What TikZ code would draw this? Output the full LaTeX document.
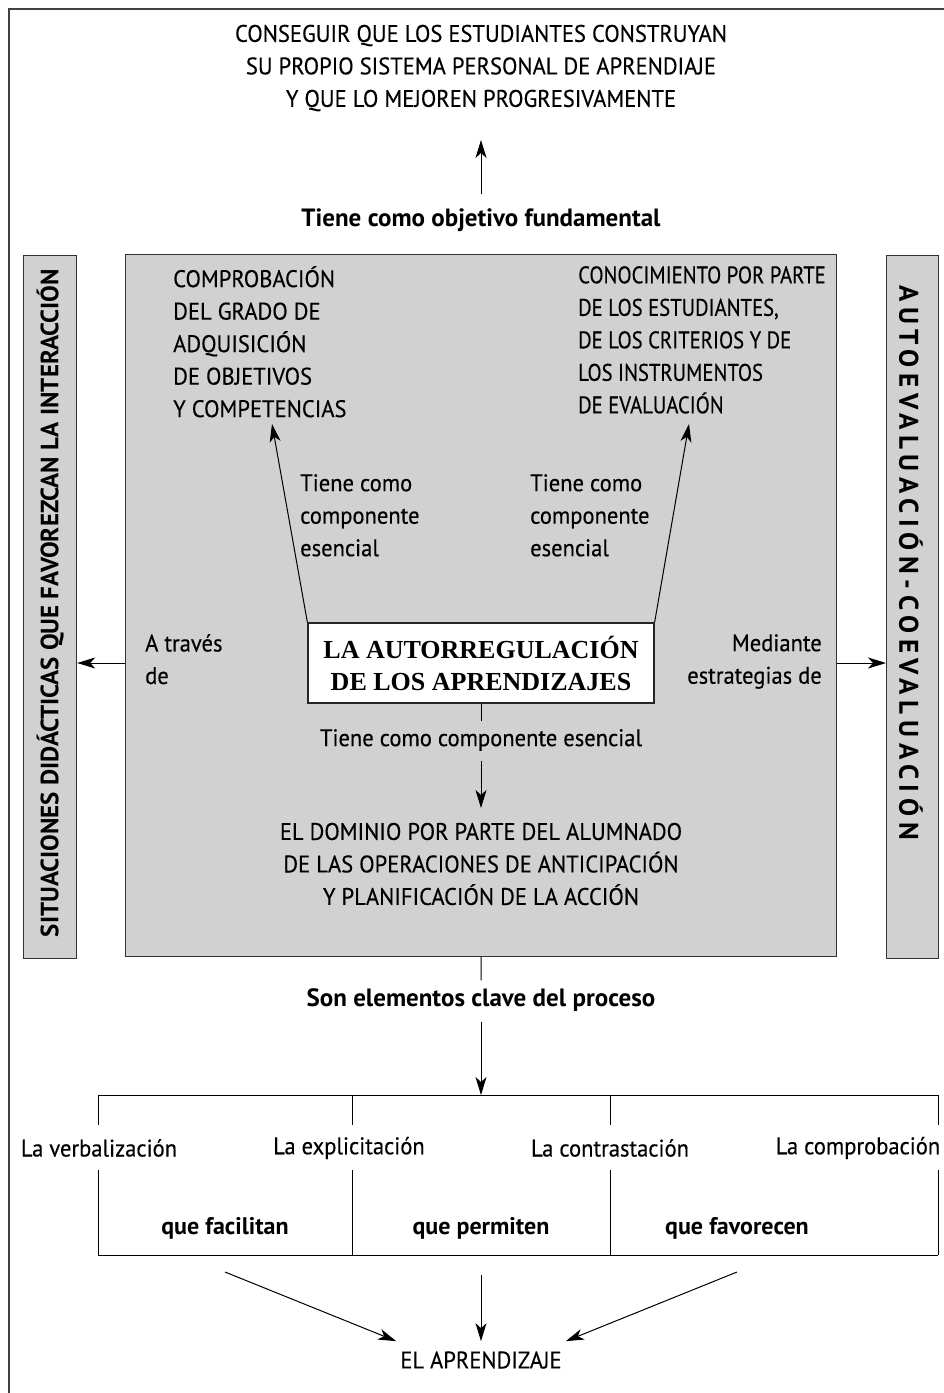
\documentclass[tikz,border=0pt]{standalone}
\usepackage{fontspec}
\setmainfont{PT Sans}[UprightFeatures={FakeStretch=0.94, FakeBold=0.3}, BoldFeatures={FakeStretch=1}]
\newfontfamily\cajafont{Liberation Serif}
\newfontfamily\estrecha{PT Sans}[FakeStretch=0.86, FakeBold=0.3]
\usetikzlibrary{arrows.meta}

\begin{document}
\begin{tikzpicture}[x=1pt, y=-1pt,
  txt/.style={font=\fontsize{24}{32.5}\selectfont, inner sep=0pt, align=center},
  negrita/.style={font=\fontsize{25}{32.5}\selectfont\bfseries, inner sep=0pt, align=center},
  gris/.style={draw=black!80, line width=1.2pt, fill=black!18, inner sep=0pt},
  flecha/.style={-{Stealth[length=18pt, width=11pt, inset=5pt]}, line width=1pt},
  linea/.style={line width=1pt}]
\useasboundingbox (0,0) rectangle (944,1393);
\draw[line width=1.5pt, black!75] (9,1393) -- (9,9) -- (944,9);

% objetivo
\node[txt] (meta) at (481,68) {CONSEGUIR QUE LOS ESTUDIANTES CONSTRUYAN\\SU PROPIO SISTEMA PERSONAL DE APRENDIAJE\\Y QUE LO MEJOREN PROGRESIVAMENTE};
\node[negrita] (objetivo) at (481,220) {Tiene como objetivo fundamental};
\coordinate (m1) at (481,140);
\draw[flecha] ([yshift=14pt]objetivo.north) -- (m1);

% cajas
\node[gris, anchor=north west, minimum width=711, minimum height=702] (centro) at (125,254) {};
\node[gris, anchor=north west, minimum width=53, minimum height=703] (izq) at (23,255) {};
\node[gris, anchor=north west, minimum width=52, minimum height=703] (der) at (886,255) {};
\node[negrita, rotate=90] (situaciones) at ([yshift=4pt]izq.center) {SITUACIONES DIDÁCTICAS QUE FAVOREZCAN LA INTERACCIÓN};
\node[negrita, rotate=-90, anchor=west, font=\fontsize{27}{32.5}\selectfont\bfseries\addfontfeature{LetterSpace=21}] (autoeval) at (911,285) {AUTOEVALUACIÓN-COEVALUACIÓN};

\node[draw=black!85, fill=white, line width=1.2pt, minimum width=346, minimum height=80, inner sep=0pt, align=center,
  font=\cajafont\bfseries\fontsize{26}{32}\selectfont] (auto) at (481,663) {LA AUTORREGULACIÓN\\DE LOS APRENDIZAJES};

\node[txt, align=left, anchor=north west] (comprob) at (173,266) {COMPROBACIÓN\\DEL GRADO DE\\ADQUISICIÓN\\DE OBJETIVOS\\Y COMPETENCIAS};
\node[txt, align=left, anchor=north west, font=\estrecha\fontsize{24}{32.5}\selectfont] (conoc) at (578,266) {CONOCIMIENTO POR PARTE\\DE LOS ESTUDIANTES,\\DE LOS CRITERIOS Y DE\\LOS INSTRUMENTOS\\DE EVALUACIÓN};
\coordinate (c1) at (272,424);
\coordinate (c2) at (689,424);
\draw[flecha] (auto.north west) -- (c1);
\draw[flecha] (auto.north east) -- (c2);
\node[txt, align=left, anchor=north west] (comp1) at (300,474) {Tiene como\\componente\\esencial};
\node[txt, align=left, anchor=north west] (comp2) at (530,474) {Tiene como\\componente\\esencial};

\node[txt, align=left, anchor=north west] (atraves) at (145,634) {A través\\de};
\node[txt, align=right, anchor=north east] (mediante) at (822,634) {Mediante\\estrategias de};
\draw[flecha] (centro.west |- auto.center) -- (izq.east |- auto.center);
\draw[flecha] (centro.east |- auto.center) -- (der.west |- auto.center);

\node[txt] (comp3) at (481,740) {Tiene como componente esencial};
\draw[linea] (auto.south) -- ([yshift=8pt]comp3.north);
\node[txt] (dominio) at (481,864) {EL DOMINIO POR PARTE DEL ALUMNADO\\DE LAS OPERACIONES DE ANTICIPACIÓN\\Y PLANIFICACIÓN DE LA ACCIÓN};
\coordinate (d1) at (481,808);
\draw[flecha] ([yshift=-10pt]comp3.south) -- (d1);

% proceso
\node[negrita] (clave) at (481,1000) {Son elementos clave del proceso};
\draw[linea] (centro.south) -- ([yshift=8pt]clave.north);
\coordinate (b0) at (481,1095);
\draw[flecha] ([yshift=-10pt]clave.south) -- (b0);
\coordinate (a1) at (98,1095);
\coordinate (a2) at (352,1095);
\coordinate (a3) at (610,1095);
\coordinate (a4) at (938,1095);
\draw[linea] (a1) -- (a4);
\foreach \c in {a1,a2,a3,a4}
  \draw[linea] (\c) -- ++(0,30);

\node[txt] (verb) at (99,1148) {La verbalización};
\node[txt] (expl) at (349,1148) {La explicitación};
\node[txt] (contr) at (610,1148) {La contrastación};
\node[txt] (compr) at (858,1148) {La comprobación};

\coordinate (p1) at (98,1255);
\coordinate (p2) at (352,1255);
\coordinate (p3) at (610,1255);
\coordinate (p4) at (938,1255);
\draw[linea] (p1) -- (p4);
\foreach \c in {p1,p2,p3,p4}
  \draw[linea] (\c) -- ++(0,-85);
\node[negrita, font=\fontsize{24}{32.5}\selectfont\bfseries] (facilitan) at (225,1228) {que facilitan};
\node[negrita, font=\fontsize{24}{32.5}\selectfont\bfseries] (permiten) at (481,1228) {que permiten};
\node[negrita, font=\fontsize{24}{32.5}\selectfont\bfseries] (favorecen) at (737,1228) {que favorecen};

\node[txt] (aprendizaje) at (481,1360) {EL APRENDIZAJE};
\coordinate (e1) at (225,1272);
\coordinate (e2) at (481,1275);
\coordinate (e3) at (737,1272);
\draw[flecha] (e1) -- ([xshift=-4pt,yshift=10pt]aprendizaje.north west);
\draw[flecha] (e2) -- ([yshift=10pt]aprendizaje.north);
\draw[flecha] (e3) -- ([xshift=4pt,yshift=10pt]aprendizaje.north east);
\end{tikzpicture}
\end{document}
